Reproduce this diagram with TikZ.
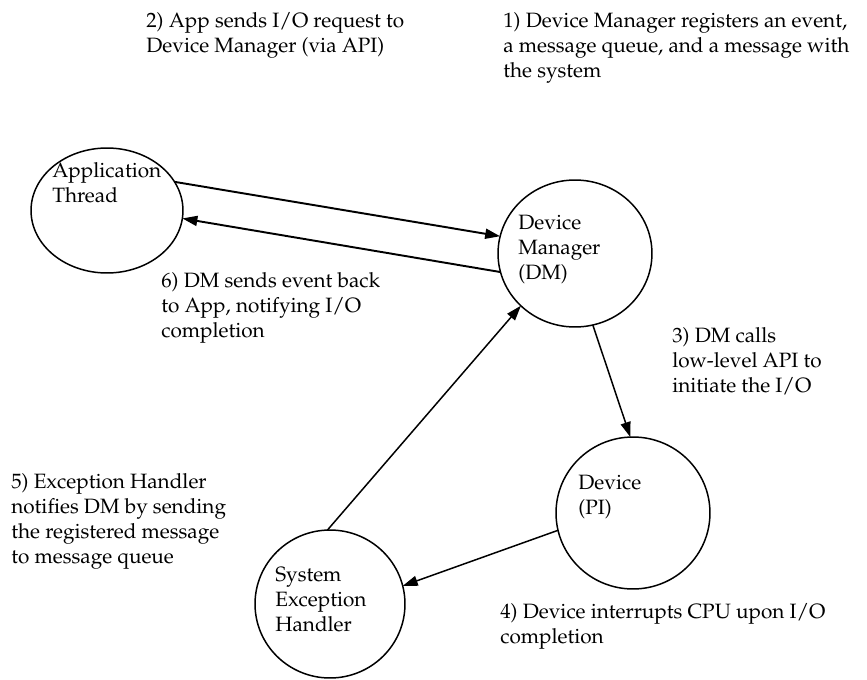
\documentclass[tikz,border=0pt]{standalone}
\usepackage[T1]{fontenc}
\usepackage{mathpazo}
\usetikzlibrary{arrows.meta,shapes.geometric}
\begin{document}
\begin{tikzpicture}[x=0.02cm,y=-0.02cm,
    proc/.style={draw=black, line width=0.85pt, ellipse, inner sep=0pt, outer sep=0pt},
    txt/.style={anchor=north west, inner sep=0pt, align=left, font=\fontsize{11.8}{14.2}\selectfont},
    flow/.style={line width=0.85pt, -{Triangle[length=0.3cm,width=0.2cm]}},
    bigflow/.style={flow, line width=1.1pt}]
            \useasboundingbox (0,0) rectangle (867,680);
            % the four processes
            \node[proc, minimum width=3.04cm, minimum height=2.5cm] (app) at (107,210.5) {};
            \node[proc, minimum width=3.08cm, minimum height=2.94cm] (dm) at (575,253.5) {};
            \node[proc, minimum width=3.08cm, minimum height=3.04cm] (dev) at (633,513) {};
            \node[proc, minimum width=3.0cm, minimum height=2.96cm] (seh) at (330,604) {};
            % names written in the upper left of each circle
            \node[txt] (appname) at (52,162) {Application\\Thread};
            \node[txt] (dmname) at (518,215) {Device\\Manager\\(DM)};
            \node[txt] (devname) at (578,475) {Device\\(PI)};
            \node[txt] (sehname) at (275,567) {System\\Exception\\Handler};
            % steps
            \node[txt] (stepone) at (503,12) {1) Device Manager registers an event,\\a message queue, and a message with\\the system};
            \node[txt] (steptwo) at (146,12) {2) App sends I/O request to\\Device Manager (via API)};
            \node[txt] (stepthree) at (672,327) {3) DM calls\\low-level API to\\initiate the I/O};
            \node[txt] (stepfour) at (500,603) {4) Device interrupts CPU upon I/O\\completion};
            \node[txt] (stepfive) at (11,473) {5) Exception Handler\\notifies DM by sending\\the registered message\\to message queue};
            \node[txt] (stepsix) at (161,272) {6) DM sends event back\\to App, notifying I/O\\completion};
            % arrows between the processes
            \draw[bigflow] (app.23) -- (dm.167);
            \draw[bigflow] (dm.194) -- (app.-6);
            \draw[flow] (dm.-76) -- (dev.92);
            \draw[flow] (dev.193) -- (seh.14);
            \draw[flow] (seh.92) -- (dm.224);
        \end{tikzpicture}
\end{document}
